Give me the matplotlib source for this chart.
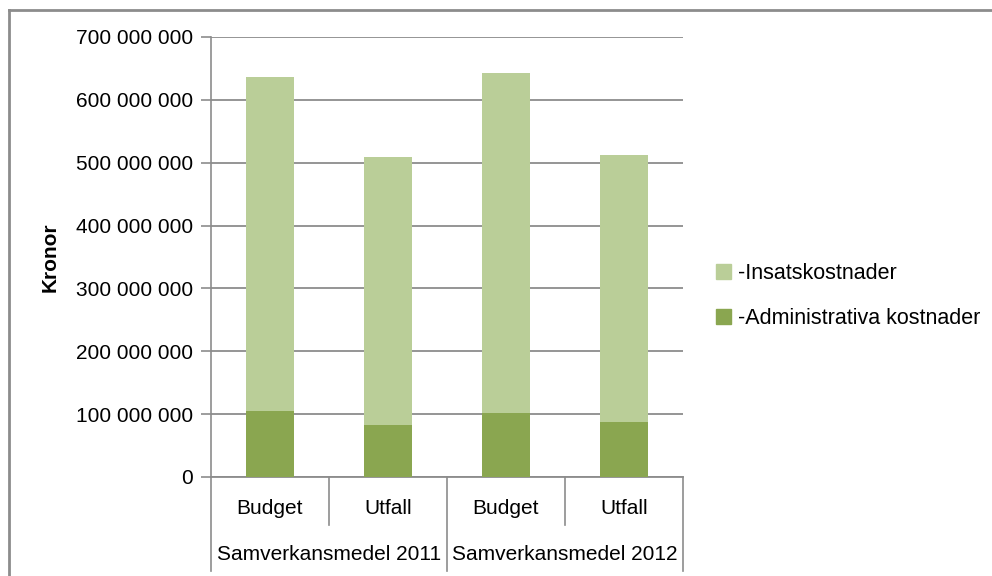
import matplotlib.pyplot as plt
from matplotlib.ticker import FuncFormatter
import matplotlib.transforms as mtransforms

plt.rcParams['font.family'] = ['Liberation Sans', 'DejaVu Sans']

# Data (kronor)
groups = ['Samverkansmedel 2011', 'Samverkansmedel 2012']
kinds = ['Budget', 'Utfall']
admin = [105_000_000, 83_000_000, 102_000_000, 88_000_000]
insats = [531_000_000, 426_000_000, 540_000_000, 425_000_000]
series_labels = ['-Insatskostnader', '-Administrativa kostnader']

light_green = '#BACE98'
dark_green = '#8AA650'
grid_gray = '#8C8C8C'
fs = 15

W, H = 992, 576
fig = plt.figure(figsize=(W / 100, H / 100), dpi=100)

# plot area in pixel coordinates
left, right, top, bottom = 211, 683, 37, 477
ax = fig.add_axes([left / W, 1 - bottom / H, (right - left) / W, (bottom - top) / H])

x = list(range(len(admin)))
ax.bar(x, admin, width=0.4, color=dark_green, zorder=3)
ax.bar(x, insats, width=0.4, bottom=admin, color=light_green, zorder=3)

ax.set_xlim(-0.5, len(admin) - 0.5)
ax.set_ylim(0, 700_000_000)
ax.set_yticks(range(0, 700_000_001, 100_000_000))
ax.yaxis.set_major_formatter(FuncFormatter(lambda v, p: f'{int(v):,}'.replace(',', ' ')))
ax.tick_params(axis='y', labelsize=fs, colors=grid_gray, labelcolor='#000000',
               length=7, width=1.2, pad=6)
ax.tick_params(axis='x', bottom=False, labelbottom=False)
ax.grid(axis='y', color=grid_gray, linewidth=1.3, zorder=0)

for side in ['top', 'right']:
    ax.spines[side].set_visible(False)
ax.spines['left'].set_color(grid_gray)
ax.spines['left'].set_linewidth(1.2)
ax.spines['bottom'].set_color(grid_gray)
ax.spines['bottom'].set_linewidth(1.3)

ax.set_ylabel('Kronor', fontsize=fs, fontweight='bold', labelpad=12)

# two-level category axis
trans = mtransforms.blended_transform_factory(ax.transData, fig.transFigure)
y_axis = 1 - bottom / H
y_short = 1 - 525 / H
y_long = 1 - 571 / H
for i, pos in enumerate([-0.5, 0.5, 1.5, 2.5, 3.5]):
    y_end = y_long if i % 2 == 0 else y_short
    ax.plot([pos, pos], [y_axis, y_end], transform=trans, color=grid_gray,
            linewidth=1.2, clip_on=False)
for i, xi in enumerate(x):
    ax.text(xi, 1 - 508 / H, kinds[i % 2], transform=trans, ha='center', va='center',
            fontsize=fs)
for g, name in enumerate(groups):
    ax.text(2 * g + 0.5, 1 - 555 / H, name, transform=trans, ha='center', va='center',
            fontsize=fs)

# legend
handles = [plt.Rectangle((0, 0), 1, 1, color=light_green),
           plt.Rectangle((0, 0), 1, 1, color=dark_green)]
fig.legend(handles, series_labels, loc='center left', bbox_to_anchor=(716 / W, 1 - 296 / H),
           frameon=False, fontsize=15.5, handlelength=0.7, handleheight=0.7,
           handletextpad=0.3, labelspacing=1.1, borderpad=0, borderaxespad=0)

# chart border (top and left edges)
fig.add_artist(plt.Line2D([9 / W, 1], [1 - 9.5 / H, 1 - 9.5 / H], color='#8C8C8C', linewidth=2))
fig.add_artist(plt.Line2D([9 / W, 9 / W], [0, 1 - 9.5 / H], color='#8C8C8C', linewidth=2))

fig.savefig('out.png', dpi=100)
